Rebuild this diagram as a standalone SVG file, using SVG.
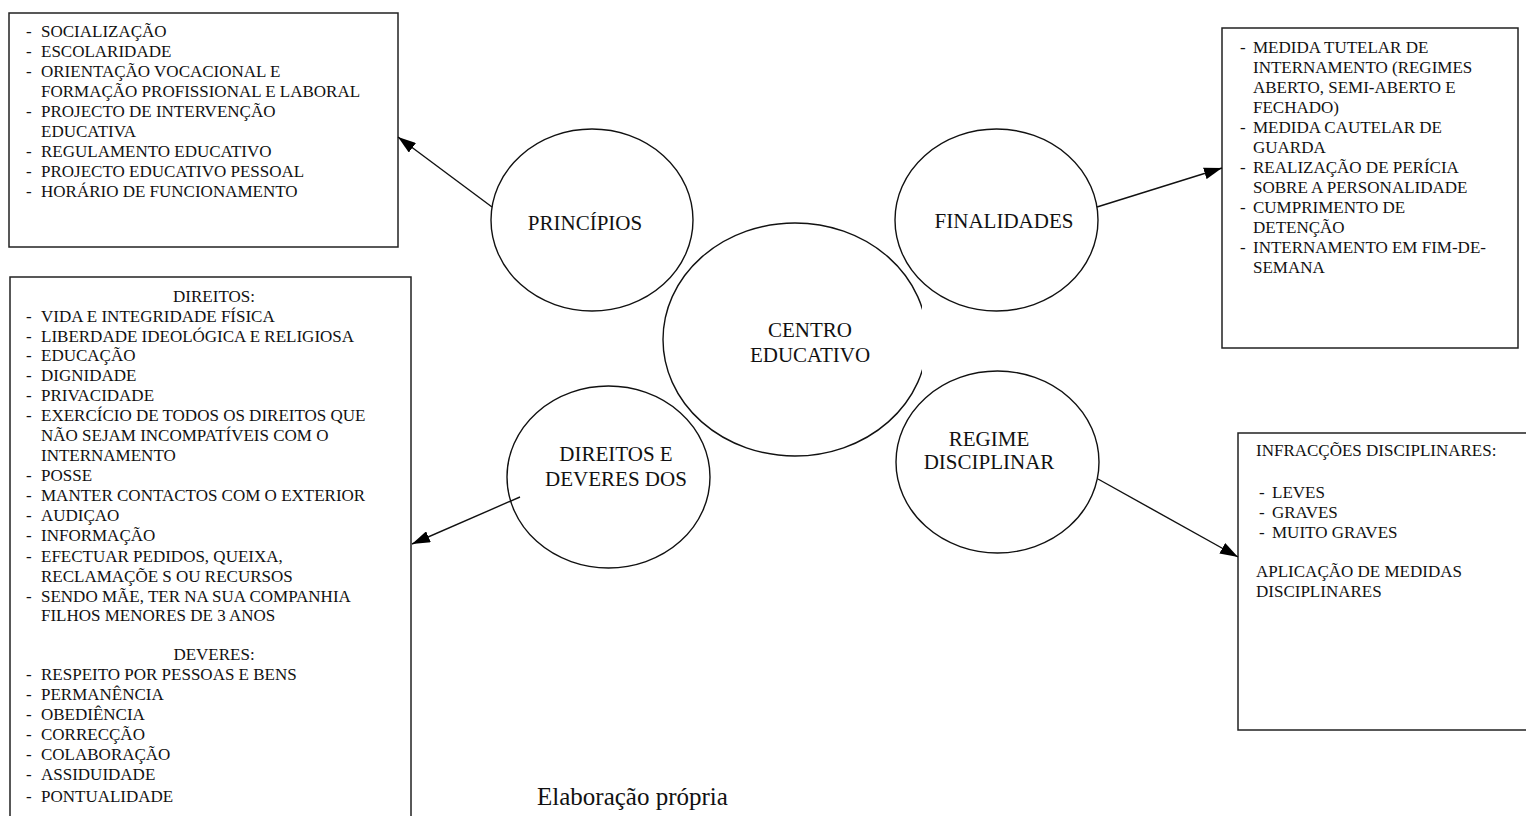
<svg xmlns="http://www.w3.org/2000/svg" width="1526" height="816" viewBox="0 0 1526 816">
<style>
text{font-family:"Liberation Serif","Times New Roman",serif;fill:#111}
.t{font-size:17px}
.c{text-anchor:middle}
.lbl{font-size:21px;text-anchor:middle}
.box{fill:#fff;stroke:#222;stroke-width:1.5}
.ell{fill:none;stroke:#111;stroke-width:1.4}
.con{stroke:#111;stroke-width:1.4;fill:none;marker-end:url(#ah)}
</style>
<defs>
<marker id="ah" viewBox="0 0 18 12" refX="18" refY="6" markerWidth="18" markerHeight="12" markerUnits="userSpaceOnUse" orient="auto">
<path d="M0,0 L18,6 L0,12 z" fill="#000"/>
</marker>
<clipPath id="cclip"><rect x="0" y="0" width="922" height="816"/></clipPath>
</defs>
<rect width="1526" height="816" fill="#fff"/>

<g id="box-principios">
<rect class="box" x="9" y="13" width="389" height="234"/>
<g class="t">
<text x="26" y="37">-</text><text x="41" y="37">SOCIALIZAÇÃO</text>
<text x="26" y="57">-</text><text x="41" y="57">ESCOLARIDADE</text>
<text x="26" y="77">-</text><text x="41" y="77">ORIENTAÇÃO VOCACIONAL E</text>
<text x="41" y="97">FORMAÇÃO PROFISSIONAL E LABORAL</text>
<text x="26" y="117">-</text><text x="41" y="117">PROJECTO DE INTERVENÇÃO</text>
<text x="41" y="137">EDUCATIVA</text>
<text x="26" y="157">-</text><text x="41" y="157">REGULAMENTO EDUCATIVO</text>
<text x="26" y="177">-</text><text x="41" y="177">PROJECTO EDUCATIVO PESSOAL</text>
<text x="26" y="197">-</text><text x="41" y="197">HORÁRIO DE FUNCIONAMENTO</text>
</g>
</g>

<g id="box-finalidades">
<rect class="box" x="1222" y="28" width="296" height="320"/>
<g class="t">
<text x="1240" y="53">-</text><text x="1253" y="53">MEDIDA TUTELAR DE</text>
<text x="1253" y="73">INTERNAMENTO (REGIMES</text>
<text x="1253" y="93">ABERTO, SEMI-ABERTO E</text>
<text x="1253" y="113">FECHADO)</text>
<text x="1240" y="133">-</text><text x="1253" y="133">MEDIDA CAUTELAR DE</text>
<text x="1253" y="153">GUARDA</text>
<text x="1240" y="173">-</text><text x="1253" y="173">REALIZAÇÃO DE PERÍCIA</text>
<text x="1253" y="193">SOBRE A PERSONALIDADE</text>
<text x="1240" y="213">-</text><text x="1253" y="213">CUMPRIMENTO DE</text>
<text x="1253" y="233">DETENÇÃO</text>
<text x="1240" y="253">-</text><text x="1253" y="253">INTERNAMENTO EM FIM-DE-</text>
<text x="1253" y="273">SEMANA</text>
</g>
</g>

<g id="box-direitos">
<rect class="box" x="10" y="277" width="401" height="560"/>
<g class="t">
<text class="c" x="214" y="302">DIREITOS:</text>
<text x="26" y="322">-</text><text x="41" y="322">VIDA E INTEGRIDADE FÍSICA</text>
<text x="26" y="341.5">-</text><text x="41" y="341.5">LIBERDADE IDEOLÓGICA E RELIGIOSA</text>
<text x="26" y="361">-</text><text x="41" y="361">EDUCAÇÃO</text>
<text x="26" y="381">-</text><text x="41" y="381">DIGNIDADE</text>
<text x="26" y="401">-</text><text x="41" y="401">PRIVACIDADE</text>
<text x="26" y="420.5">-</text><text x="41" y="420.5">EXERCÍCIO DE TODOS OS DIREITOS QUE</text>
<text x="41" y="440.5">NÃO SEJAM INCOMPATÍVEIS COM O</text>
<text x="41" y="460.5">INTERNAMENTO</text>
<text x="26" y="480.5">-</text><text x="41" y="480.5">POSSE</text>
<text x="26" y="500.5">-</text><text x="41" y="500.5">MANTER CONTACTOS COM O EXTERIOR</text>
<text x="26" y="520.5">-</text><text x="41" y="520.5">AUDIÇAO</text>
<text x="26" y="541">-</text><text x="41" y="541">INFORMAÇÃO</text>
<text x="26" y="562">-</text><text x="41" y="562">EFECTUAR PEDIDOS, QUEIXA,</text>
<text x="41" y="582">RECLAMAÇÕE S OU RECURSOS</text>
<text x="26" y="602">-</text><text x="41" y="602">SENDO MÃE, TER NA SUA COMPANHIA</text>
<text x="41" y="621">FILHOS MENORES DE 3 ANOS</text>
<text class="c" x="214" y="660">DEVERES:</text>
<text x="26" y="680">-</text><text x="41" y="680">RESPEITO POR PESSOAS E BENS</text>
<text x="26" y="700">-</text><text x="41" y="700">PERMANÊNCIA</text>
<text x="26" y="720">-</text><text x="41" y="720">OBEDIÊNCIA</text>
<text x="26" y="740">-</text><text x="41" y="740">CORRECÇÃO</text>
<text x="26" y="760">-</text><text x="41" y="760">COLABORAÇÃO</text>
<text x="26" y="780">-</text><text x="41" y="780">ASSIDUIDADE</text>
<text x="26" y="802">-</text><text x="41" y="802">PONTUALIDADE</text>
</g>
</g>

<g id="box-regime">
<rect class="box" x="1238" y="433" width="300" height="297"/>
<g class="t">
<text x="1256" y="456">INFRACÇÕES DISCIPLINARES:</text>
<text x="1259" y="498">-</text><text x="1272" y="498">LEVES</text>
<text x="1259" y="518">-</text><text x="1272" y="518">GRAVES</text>
<text x="1259" y="538">-</text><text x="1272" y="538">MUITO GRAVES</text>
<text x="1256" y="577">APLICAÇÃO DE MEDIDAS</text>
<text x="1256" y="597">DISCIPLINARES</text>
</g>
</g>

<g id="node-centro">
<ellipse class="ell" cx="795" cy="339.5" rx="132" ry="116.5" clip-path="url(#cclip)"/>
<text class="lbl" x="810" y="337">CENTRO</text>
<text class="lbl" x="810" y="362">EDUCATIVO</text>
</g>

<g id="node-principios">
<ellipse class="ell" cx="592" cy="220" rx="101" ry="91"/>
<text class="lbl" x="585" y="230">PRINCÍPIOS</text>
</g>

<g id="node-finalidades">
<ellipse class="ell" cx="996.5" cy="220" rx="101.5" ry="91"/>
<text class="lbl" x="1004" y="228">FINALIDADES</text>
</g>

<g id="node-direitos">
<ellipse class="ell" cx="608.5" cy="477" rx="101.5" ry="91"/>
<text class="lbl" x="616" y="461">DIREITOS E</text>
<text class="lbl" x="616" y="486">DEVERES DOS</text>
</g>

<g id="node-regime">
<ellipse class="ell" cx="997.5" cy="462" rx="101.5" ry="91"/>
<text class="lbl" x="989" y="446">REGIME</text>
<text class="lbl" x="989" y="469">DISCIPLINAR</text>
</g>

<g id="connectors">
<line class="con" x1="492" y1="207" x2="398" y2="137"/>
<line class="con" x1="1097" y1="207" x2="1222" y2="168"/>
<line class="con" x1="520" y1="497" x2="412" y2="544"/>
<line class="con" x1="1098" y1="479" x2="1238" y2="557"/>
</g>

<text x="537" y="805" style="font-size:25px">Elaboração própria</text>
</svg>
